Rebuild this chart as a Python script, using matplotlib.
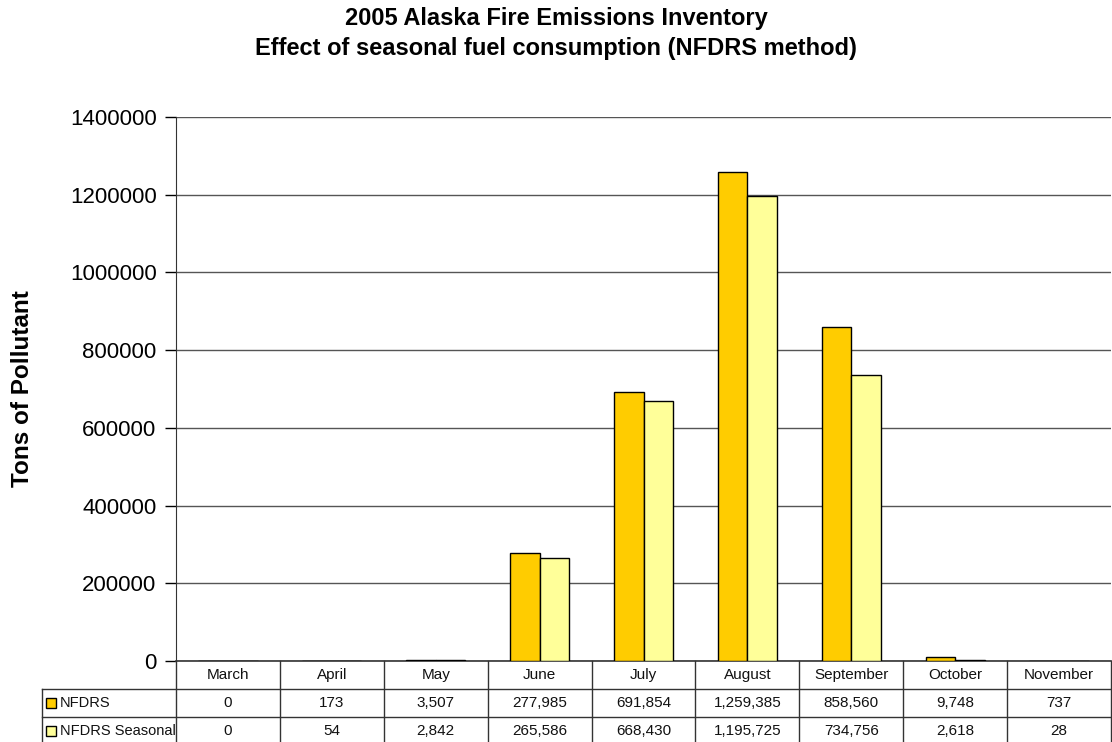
import matplotlib
matplotlib.use("Agg")
import matplotlib.pyplot as plt
from matplotlib.patches import Rectangle
from matplotlib.ticker import FuncFormatter

plt.rcParams['font.family'] = ['Liberation Sans', 'DejaVu Sans']

months = ["March", "April", "May", "June", "July", "August",
          "September", "October", "November"]
nfdrs = [0, 173, 3507, 277985, 691854, 1259385, 858560, 9748, 737]
nfdrs_seasonal = [0, 54, 2842, 265586, 668430, 1195725, 734756, 2618, 28]
series_names = ["NFDRS", "NFDRS Seasonal"]

C_NFDRS = "#FFCC00"
C_SEAS = "#FFFF99"

W, H = 1112, 742
fig = plt.figure(figsize=(W / 100, H / 100), dpi=100)
ax_l, ax_r, ax_t, ax_b = 176, 1111, 117, 661
ax = fig.add_axes([ax_l / W, (H - ax_b) / H, (ax_r - ax_l) / W, (ax_b - ax_t) / H])

x = list(range(len(months)))
bw = 0.285
ax.bar([i - bw / 2 for i in x], nfdrs, bw, color=C_NFDRS,
       edgecolor="black", linewidth=1, zorder=3)
ax.bar([i + bw / 2 for i in x], nfdrs_seasonal, bw, color=C_SEAS,
       edgecolor="black", linewidth=1, zorder=3)

ax.set_xlim(-0.5, len(months) - 0.5)
ax.set_ylim(0, 1400000)
ax.set_yticks(range(0, 1400001, 200000))
ax.yaxis.set_major_formatter(FuncFormatter(lambda v, p: f"{int(v)}"))
ax.tick_params(axis="y", labelsize=16, length=8, width=1, direction="out", pad=6)
ax.set_xticks([])
ax.grid(axis="y", color="#555555", linewidth=1, zorder=0)
for s in ["top", "right"]:
    ax.spines[s].set_visible(False)
ax.spines["left"].set_color("#333333")
ax.spines["bottom"].set_color("#333333")
ax.spines["bottom"].set_linewidth(1.2)

ax.set_ylabel("Tons of Pollutant", fontsize=17.5, fontweight="bold", labelpad=26)

fig.text(0.5, 1 - 18 / H, "2005 Alaska Fire Emissions Inventory",
         ha="center", va="center", fontsize=17, fontweight="bold")
fig.text(0.5, 1 - 48 / H, "Effect of seasonal fuel consumption (NFDRS method)",
         ha="center", va="center", fontsize=17, fontweight="bold")

# data table below the axis
def fx(px):
    return px / W

def fy(py):
    return 1 - py / H

lc = "#333333"
tc = "#111111"
col_w = (ax_r - ax_l) / len(months)
lab_l = 42
for yy in (689, 717):
    fig.add_artist(plt.Line2D([fx(lab_l), fx(ax_r)], [fy(yy), fy(yy)],
                              color=lc, lw=1))
for k in range(len(months) + 1):
    xx = ax_l + k * col_w
    fig.add_artist(plt.Line2D([fx(xx), fx(xx)], [fy(661), fy(742)],
                              color=lc, lw=1))
fig.add_artist(plt.Line2D([fx(lab_l), fx(lab_l)], [fy(689), fy(742)],
                          color=lc, lw=1))

for k, m in enumerate(months):
    cx = ax_l + (k + 0.5) * col_w
    fig.text(fx(cx), fy(675), m, ha="center", va="center", fontsize=11,
             color=tc)
    for r, vals in enumerate([nfdrs, nfdrs_seasonal]):
        fig.text(fx(cx), fy(703 + r * 28), f"{vals[k]:,}", ha="center",
                 va="center", fontsize=11, color=tc)

for r, (name, col) in enumerate(zip(series_names, [C_NFDRS, C_SEAS])):
    yc = 703 + r * 28
    fig.add_artist(Rectangle((fx(46), fy(yc + 5)), 10 / W, 10 / H,
                             facecolor=col, edgecolor="black", lw=1))
    fig.text(fx(60), fy(yc), name, ha="left", va="center", fontsize=10.5,
             color=tc)

fig.savefig("out.png", dpi=100, facecolor="white")
